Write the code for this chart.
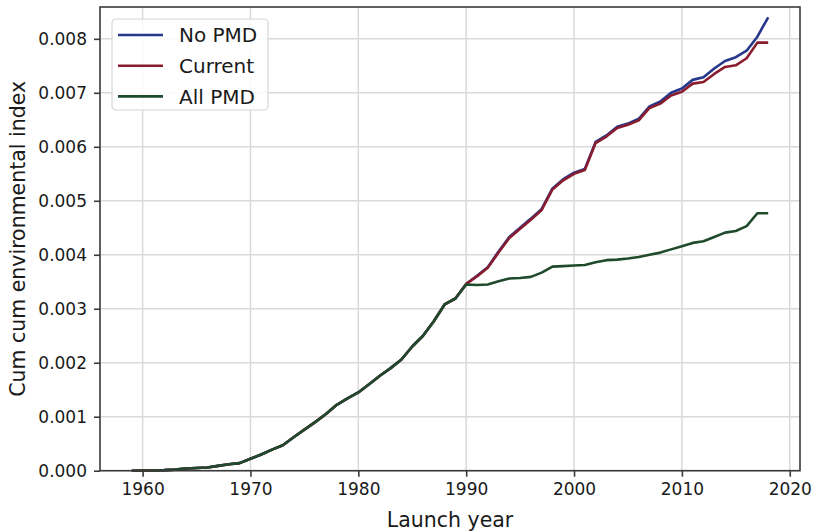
<!DOCTYPE html>
<html>
<head>
<meta charset="utf-8">
<script src="https://cdn.jsdelivr.net/npm/d3@7"></script>
<style>
  body { margin: 0; background: #fff; }
  text { font-family: 'DejaVu Sans', sans-serif; fill: #1a1a1a; }
  .axis text { font-size: 17px; }
  .axis path, .axis line { stroke: #3a3a3a; stroke-width: 1.6; }
  .grid line { stroke: #d9d9d9; stroke-width: 1.5; }
</style>
</head>
<body>
<div id="chart"></div>
<script>
// data
const years = d3.range(1959, 2019)

const noPmd = [
  0, 0.000003, 0.000005, 0.00001, 0.00002, 0.00004, 0.00005, 0.00006, 0.00009, 0.00012, 0.00014,
  0.00022, 0.0003, 0.00039, 0.00047, 0.00062, 0.00076, 0.0009, 0.00105, 0.00122, 0.00134,
  0.00145, 0.0016, 0.00176, 0.0019, 0.00206, 0.0023, 0.0025, 0.00277, 0.00308, 0.00319,
  0.00346, 0.00361, 0.00377, 0.00406, 0.00433, 0.0045, 0.00467, 0.00485, 0.00523, 0.0054,
  0.00552, 0.00559, 0.00609, 0.00621, 0.00637, 0.00643, 0.00652, 0.00675, 0.00684, 0.007,
  0.00708, 0.00724, 0.00729, 0.00745, 0.00759, 0.00766, 0.00778, 0.00804, 0.0084
]

const current = [
  0, 0.000003, 0.000005, 0.00001, 0.00002, 0.00004, 0.00005, 0.00006, 0.00009, 0.00012, 0.00014,
  0.00022, 0.0003, 0.00039, 0.00047, 0.00062, 0.00076, 0.0009, 0.00105, 0.00122, 0.00134,
  0.00145, 0.0016, 0.00176, 0.0019, 0.00206, 0.0023, 0.0025, 0.00277, 0.00308, 0.00319,
  0.00346, 0.0036, 0.00376, 0.00404, 0.00431, 0.00448, 0.00465, 0.00483, 0.00521, 0.00538,
  0.0055, 0.00557, 0.00607, 0.00619, 0.00635, 0.00641, 0.00649, 0.00672, 0.0068, 0.00695,
  0.00702, 0.00717, 0.0072, 0.00735, 0.00748, 0.00751, 0.00764, 0.00793, 0.00793
]

const allPmd = [
  0, 0.000003, 0.000005, 0.00001, 0.00002, 0.00004, 0.00005, 0.00006, 0.00009, 0.00012, 0.00014,
  0.00022, 0.0003, 0.00039, 0.00047, 0.00062, 0.00076, 0.0009, 0.00105, 0.00122, 0.00134,
  0.00145, 0.0016, 0.00176, 0.0019, 0.00206, 0.0023, 0.0025, 0.00277, 0.00308, 0.00319,
  0.00345, 0.00344, 0.00345, 0.00351, 0.00356, 0.00357, 0.00359, 0.00367, 0.00378, 0.00379,
  0.0038, 0.00381, 0.00386, 0.0039, 0.00391, 0.00393, 0.00396, 0.004, 0.00404, 0.0041,
  0.00416, 0.00422, 0.00425, 0.00433, 0.00441, 0.00444, 0.00453, 0.00477, 0.00477
]

const seriesNames = ['No PMD', 'Current', 'All PMD']
const seriesColors = ['#25378a', '#8a1c2f', '#1f4a2b']
const xTicks = [1960, 1970, 1980, 1990, 2000, 2010, 2020]
const yTicks = [0, 0.001, 0.002, 0.003, 0.004, 0.005, 0.006, 0.007, 0.008]

const margin = { top: 7, left: 100, right: 14, bottom: 61.3 }
const width = 814 - margin.left - margin.right
const height = 532 - margin.top - margin.bottom

const svg = d3
  .select('#chart')
  .append('svg')
  .attr('width', 814)
  .attr('height', 532)
  .append('g')
  .attr('transform', 'translate(' + margin.left + ',' + margin.top + ')')

const xPositionScale = d3
  .scaleLinear()
  .domain([1956.05, 2020.95])
  .range([0, width])

const yPositionScale = d3
  .scaleLinear()
  .domain([0, 0.00859])
  .range([height, 0])

// grid
svg
  .append('g')
  .attr('class', 'grid')
  .selectAll('line.v')
  .data(xTicks)
  .enter()
  .append('line')
  .attr('x1', d => xPositionScale(d))
  .attr('x2', d => xPositionScale(d))
  .attr('y1', 0)
  .attr('y2', height)

svg
  .select('.grid')
  .selectAll('line.h')
  .data(yTicks)
  .enter()
  .append('line')
  .attr('x1', 0)
  .attr('x2', width)
  .attr('y1', d => yPositionScale(d))
  .attr('y2', d => yPositionScale(d))

const series = [noPmd, current, allPmd]

const line = d3
  .line()
  .x((d, i) => xPositionScale(years[i]))
  .y(d => yPositionScale(d))

svg
  .selectAll('.series')
  .data(series)
  .enter()
  .append('path')
  .attr('class', 'series')
  .attr('d', d => line(d))
  .attr('fill', 'none')
  .attr('stroke', (d, i) => seriesColors[i])
  .attr('stroke-width', 2.6)
  .attr('stroke-linejoin', 'round')

// frame
svg
  .append('rect')
  .attr('width', width)
  .attr('height', height)
  .attr('fill', 'none')
  .attr('stroke', '#3a3a3a')
  .attr('stroke-width', 1.6)

const xAxis = d3
  .axisBottom(xPositionScale)
  .tickValues(xTicks)
  .tickFormat(d3.format('d'))
  .tickSize(6)
  .tickPadding(6)
  .tickSizeOuter(0)

svg
  .append('g')
  .attr('class', 'axis x-axis')
  .attr('transform', 'translate(0,' + height + ')')
  .call(xAxis)

const yAxis = d3
  .axisLeft(yPositionScale)
  .tickValues(yTicks)
  .tickFormat(d3.format('.3f'))
  .tickSize(6)
  .tickPadding(7)
  .tickSizeOuter(0)

svg
  .append('g')
  .attr('class', 'axis y-axis')
  .call(yAxis)

svg.selectAll('.axis .domain').remove()

svg
  .append('text')
  .attr('x', width / 2)
  .attr('y', height + 56)
  .attr('text-anchor', 'middle')
  .attr('font-size', 20.5)
  .text('Launch year')

svg
  .append('text')
  .attr('transform', 'translate(' + (-75) + ',' + height / 2 + ') rotate(-90)')
  .attr('text-anchor', 'middle')
  .attr('font-size', 20.5)
  .text('Cum cum environmental index')

// legend
const legend = svg.append('g').attr('transform', 'translate(12,12)')

legend
  .append('rect')
  .attr('width', 156)
  .attr('height', 91)
  .attr('rx', 4)
  .attr('fill', 'rgba(255,255,255,0.85)')
  .attr('stroke', '#d6d6d6')
  .attr('stroke-width', 1.2)

seriesNames.forEach((name, i) => {
  const g = legend.append('g').attr('transform', 'translate(0,' + (16 + i * 30.7) + ')')
  g.append('line')
    .attr('x1', 6)
    .attr('x2', 51)
    .attr('stroke', seriesColors[i])
    .attr('stroke-width', 2.6)
  g.append('text')
    .attr('x', 67)
    .attr('dy', '0.36em')
    .attr('font-size', 20)
    .text(name)
})
</script>
</body>
</html>
